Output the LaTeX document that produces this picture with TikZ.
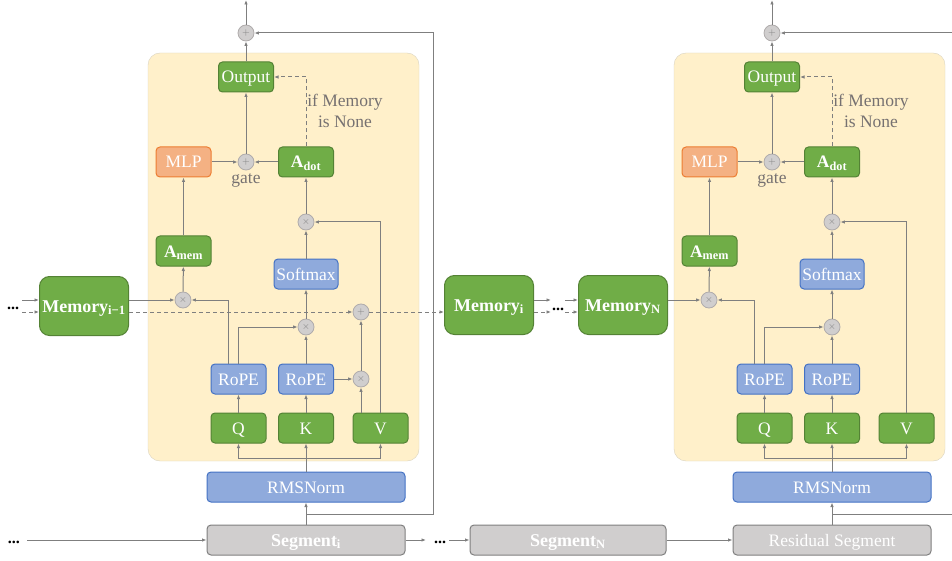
\documentclass[tikz,border=0pt]{standalone}
\usepackage{fontspec}
\setmainfont{Liberation Serif}
\usetikzlibrary{arrows.meta}

\definecolor{boxgreen}{HTML}{70AD47}
\definecolor{boxgreenline}{HTML}{548235}
\definecolor{boxblue}{HTML}{8FAADC}
\definecolor{boxblueline}{HTML}{4472C4}
\definecolor{boxorange}{HTML}{F4B183}
\definecolor{boxorangeline}{HTML}{ED7D31}
\definecolor{boxgray}{HTML}{D0CECE}
\definecolor{boxgrayline}{HTML}{7F7F7F}
\definecolor{bgfill}{HTML}{FFF0CA}
\definecolor{bgline}{HTML}{DAD3C0}
\definecolor{linegray}{HTML}{7F7F7F}
\definecolor{circline}{HTML}{AFABAB}
\definecolor{lblgray}{HTML}{767171}

\tikzset{
  box/.style={draw, rounded corners=4pt, line width=1pt, minimum width=55pt,
    minimum height=30pt, inner sep=0pt, text height=12pt, text depth=0pt,
    text=white, font=\fontsize{17.5}{19}\selectfont},
  greenbox/.style={box, fill=boxgreen, draw=boxgreenline},
  bluebox/.style={box, fill=boxblue, draw=boxblueline},
  orangebox/.style={box, fill=boxorange, draw=boxorangeline},
  segbox/.style={box, fill=boxgray, draw=boxgrayline, minimum width=198pt},
  membox/.style={box, fill=boxgreen, draw=boxgreenline, rounded corners=10pt,
    minimum width=89pt, minimum height=59pt, font=\fontsize{18}{20}\selectfont\bfseries},
  opcirc/.style={circle, draw=circline, fill=boxgray, line width=0.8pt, minimum size=16pt,
    inner sep=0pt, text=linegray, font=\fontsize{10}{10}\selectfont},
  lbl/.style={text=lblgray, inner sep=0pt, font=\fontsize{17.5}{21}\selectfont},
  dots/.style={anchor=base, inner sep=0pt, font=\fontsize{16}{18}\selectfont\bfseries},
  line/.style={draw=linegray, line width=1pt},
  conn/.style={line, ->},
  dash line/.style={dash pattern=on 4pt off 3pt},
}

% one attention layer, #1 is the prefix of its node names
\newcommand{\attnblock}[1]{%
  \filldraw[fill=bgfill, draw=bgline, rounded corners=12pt] (148,53) rectangle (419,461);
  \node[opcirc] (#1-sum) at (246,33) {$+$};
  \coordinate (#1-top) at (246,0);
  \node[greenbox] (#1-out) at (246,77) {Output};
  \node[orangebox] (#1-mlp) at (183.5,162) {MLP};
  \node[opcirc] (#1-gate) at (246,162) {$+$};
  \node[lbl] at (246,180) {gate};
  \node[greenbox, font=\fontsize{17.5}{19}\selectfont\bfseries] (#1-adot) at (306,162) {A\textsubscript{dot}};
  \node[lbl, align=center] at (345,111) {if Memory\\is None};
  \node[opcirc] (#1-av) at (306,222) {$\times$};
  \node[bluebox, minimum width=64pt] (#1-soft) at (306,274) {Softmax};
  \node[greenbox, font=\fontsize{17.5}{19}\selectfont\bfseries] (#1-amem) at (183.5,251) {A\textsubscript{mem}};
  \node[opcirc] (#1-mq) at (183,300) {$\times$};
  \node[opcirc] (#1-qk) at (306,327) {$\times$};
  \node[bluebox] (#1-ropeq) at (238.5,379) {RoPE};
  \node[bluebox] (#1-ropek) at (306,379) {RoPE};
  \node[greenbox] (#1-q) at (238.5,428) {Q};
  \node[greenbox] (#1-k) at (306,428) {K};
  \node[greenbox] (#1-v) at (380.5,428) {V};
  \node[bluebox, minimum width=198pt] (#1-norm) at (306,487) {RMSNorm};
  \coordinate (#1-split) at (306,458);
  % connectors
  \draw[conn] (#1-sum) -- (#1-top);
  \draw[conn] (#1-out) -- (#1-sum);
  \draw[conn] (#1-gate) -- (#1-out);
  \draw[conn] (#1-mlp) -- (#1-gate);
  \draw[conn] (#1-adot) -- (#1-gate);
  \draw[conn, dash line] (#1-adot.north) |- (#1-out.east);
  \draw[conn] (#1-av) -- (#1-adot);
  \draw[conn] (#1-soft) -- (#1-av);
  \draw[conn] (#1-v.north) |- (#1-av);
  \draw[conn] (#1-qk) -- (#1-soft);
  \draw[conn] (#1-ropek) -- (#1-qk);
  \draw[conn] (#1-ropeq.north) |- (#1-qk);
  \draw[conn] ([xshift=-10.5pt]#1-ropeq.north) |- (#1-mq);
  \draw[conn] (#1-mq) -- (#1-amem);
  \draw[conn] (#1-amem) -- (#1-mlp);
  \draw[conn] (#1-q) -- (#1-ropeq);
  \draw[conn] (#1-k) -- (#1-ropek);
  \draw[conn] (#1-norm) -- (#1-k);
  \draw[conn] (#1-split) -| (#1-q);
  \draw[conn] (#1-split) -| (#1-v);
}

\begin{document}
\begin{tikzpicture}[x=1pt, y=-1pt, >={Latex[length=4.5pt,width=3.5pt]}]
\useasboundingbox (0,0) rectangle (952,561);

\begin{scope}
  \attnblock{L}
\end{scope}
\begin{scope}[xshift=526pt]
  \attnblock{R}
\end{scope}

% memory update in layer i
\node[opcirc] (L-upd) at (361,312) {$+$};
\node[opcirc] (L-mv) at (361,379) {$\times$};
\draw[conn] (L-ropek) -- (L-mv);
\draw[conn] (L-v.north -| L-mv) -- (L-mv);
\draw[conn] (L-mv) -- (L-upd);

% memories
\node[membox] (mem-prev) at (84,306) {Memory\textsubscript{i−1}};
\node[membox] (mem-i) at (489,305) {Memory\textsubscript{i}};
\node[membox] (mem-n) at (623,305) {Memory\textsubscript{N}};

\coordinate (in-s) at (22,300);
\coordinate (in-d) at (22,312);
\node[dots] at (13,309) {...};
\draw[conn] (in-s) -- (in-s -| mem-prev.west);
\draw[conn, dash line] (in-d) -- (in-d -| mem-prev.west);
\draw[conn] (mem-prev.east |- L-mq) -- (L-mq);
\draw[conn, dash line] (mem-prev.east |- L-upd) -- (L-upd);
\draw[conn, dash line] (L-upd) -- (L-upd -| mem-i.west);

\coordinate (mid-s1) at (551,300);
\coordinate (mid-d1) at (551,312);
\coordinate (mid-s2) at (565,300);
\coordinate (mid-d2) at (565,312);
\node[dots] at (558,310) {...};
\draw[conn] (mem-i.east |- mid-s1) -- (mid-s1);
\draw[conn, dash line] (mem-i.east |- mid-d1) -- (mid-d1);
\draw[conn] (mid-s2) -- (mid-s2 -| mem-n.west);
\draw[conn, dash line] (mid-d2) -- (mid-d2 -| mem-n.west);
\draw[conn] (mem-n.east |- R-mq) -- (R-mq);

% segments
\node[segbox, font=\fontsize{18}{20}\selectfont\bfseries] (seg-i) at (306,540) {Segment\textsubscript{i}};
\node[segbox, minimum width=196pt, font=\fontsize{18}{20}\selectfont\bfseries] (seg-n) at (568,540) {Segment\textsubscript{N}};
\node[segbox] (seg-r) at (832,540) {Residual Segment};

\coordinate (seg-in) at (27,540);
\node[dots] at (14,543) {...};
\draw[conn] (seg-in) -- (seg-i);
\coordinate (seg-a) at (426,540);
\coordinate (seg-b) at (449,540);
\node[dots] at (440,543) {...};
\draw[conn] (seg-i) -- (seg-a);
\draw[conn] (seg-b) -- (seg-n);
\draw[conn] (seg-n) -- (seg-r);
\draw[conn] (seg-i) -- (L-norm);
\draw[conn] (seg-r) -- (R-norm);

% residual paths
\coordinate (L-res) at (306,514);
\coordinate (L-back) at (433,33);
\draw[conn] (L-res) -| (L-back) -- (L-sum);
\coordinate (R-res) at (832,514);
\coordinate (R-exit) at (952,514);
\coordinate (R-back) at (952,33);
\draw[line] (R-res) -- (R-exit);
\draw[conn] (R-back) -- (R-sum);
\end{tikzpicture}
\end{document}
